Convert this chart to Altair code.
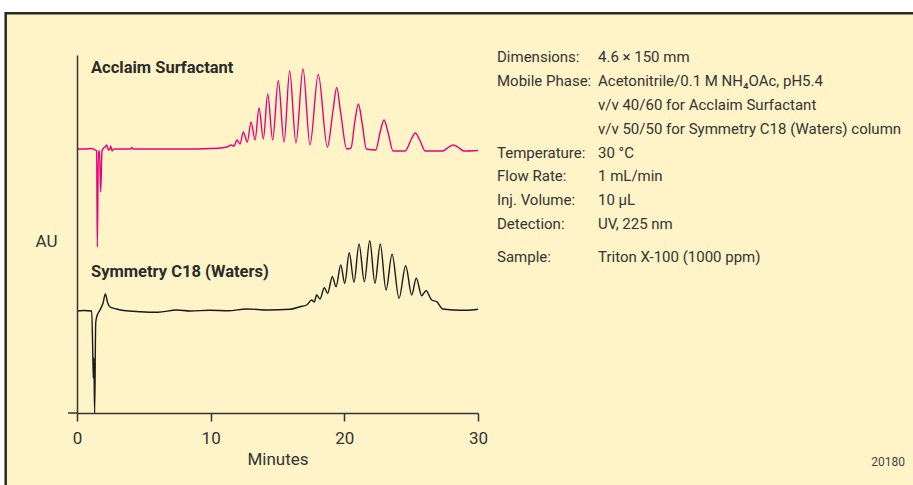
import altair as alt
import pandas as pd

# ---------------- data ----------------
# Acclaim Surfactant trace (minutes, arbitrary AU)
acclaim_time = [0, 0.6, 1.1, 1.35, 1.47, 1.52, 1.6, 1.68, 1.77, 1.87, 2.0, 2.1, 2.22, 2.35,
                2.45, 2.52, 2.62, 2.75, 3.2, 4.0, 4.09, 4.2, 6.0, 8.0, 10.0, 10.9, 11.3,
                11.52, 11.75, 11.97, 12.2, 12.44, 12.74, 13.02, 13.32, 13.62, 13.94, 14.27,
                14.64, 15.06, 15.49, 15.91, 16.38, 16.91, 17.43, 18.05, 18.73,
                19.15, 19.43, 19.71, 20.18,
                20.5, 20.78, 21.05, 21.32, 21.65, 22.35, 22.68, 22.97, 23.26, 23.65, 24.55,
                24.98, 25.31, 25.64, 26.05, 27.35, 27.8, 28.15, 28.5, 28.95, 30.0]
acclaim_au = [264, 264, 264.5, 263, 262, 166, 262, 262, 221, 262, 265, 266, 268, 263,
              264, 267, 262, 264, 264, 264, 265.5, 264, 264, 264, 264.5, 265.3, 266.5,
              268, 267, 273, 269, 281, 271, 291, 273, 305, 274, 319,
              273, 332.5, 271, 342, 270, 344, 268, 338.5, 266,
              302, 325.5, 302, 264,
              265, 291, 309, 291, 264, 263, 281, 293, 281, 262, 262,
              273, 280, 273, 262, 262, 265.8, 268, 265.8, 262, 262.5]

# Symmetry C18 (Waters) trace
symmetry_time = [0, 0.5, 1.1, 1.18, 1.22, 1.26, 1.32, 1.4, 1.47, 1.72, 1.95, 2.12, 2.3, 2.47,
                 2.97, 3.5, 4.7, 6.06, 7.46, 8.5, 9.95, 11.3, 12.7, 14.3, 15.93, 16.68,
                 17.18, 17.56, 17.75, 17.93, 18.18, 18.5, 18.75, 19.1, 19.38, 19.73, 20.03,
                 20.37, 20.72, 21.1, 21.5, 21.9, 22.29, 22.69, 23.12, 23.57, 24.09, 24.59,
                 25.04, 25.38, 25.79, 26.11, 26.54, 26.91, 27.36, 28.15, 29.15, 30.0]
symmetry_au = [102, 102.5, 102, 60, 35, 55, 0, 90, 96, 103, 110, 119, 110, 106,
               104, 102.5, 101.3, 100.7, 103, 102, 102.7, 102.3, 104, 103, 103.7, 106.3,
               108, 113, 111, 118, 114, 125.3, 119.7, 136.3, 126.3, 148, 129.7,
               160.3, 130.7, 169, 131.3, 172.3, 129.7, 169, 123, 158.7, 114.7, 147.3,
               118, 134.7, 117.3, 122.3, 113, 111.3, 104, 103, 102.7, 103.7]

series_names = ["Acclaim Surfactant", "Symmetry C18 (Waters)"]
x_ticks = [0, 10, 20, 30]

info_keys = ["Dimensions:", "Mobile Phase:", "", "", "Temperature:", "Flow Rate:",
             "Inj. Volume:", "Detection:", "Sample:"]
info_vals = ["4.6 \u00d7 150 mm", "Acetonitrile/0.1 M NH\u2084OAc, pH5.4",
             "v/v 40/60 for Acclaim Surfactant",
             "v/v 50/50 for Symmetry C18 (Waters) column", "30 \u00b0C", "1 mL/min",
             "10 \u00b5L", "UV, 225 nm", "Triton X-100 (1000 ppm)"]
figure_id = "20180"

# ---------------- styling / layout ----------------
FONT = "Roboto, 'Liberation Sans', sans-serif"
CREAM = "#fff4c7"
PINK = "#e6007e"
INK = "#333333"
PLOT_LEFT, PLOT_TOP, PLOT_W, PLOT_H = 77, 55, 401, 358

traces = pd.concat([
    pd.DataFrame({"t": acclaim_time, "v": acclaim_au, "s": series_names[0]}),
    pd.DataFrame({"t": symmetry_time, "v": symmetry_au, "s": series_names[1]}),
])

one = pd.DataFrame({"k": [0]})

xs = alt.Scale(domain=[0, 30], nice=False, zero=False)
ys = alt.Scale(domain=[0, PLOT_H], nice=False, zero=False)

background = alt.Chart(one).mark_rect(
    fill=CREAM, stroke="#2a2a2a", strokeWidth=2.5
).encode(
    x=alt.value(5.7 - PLOT_LEFT), x2=alt.value(1000),
    y=alt.value(13.3 - PLOT_TOP), y2=alt.value(600),
)

lines = alt.Chart(traces).mark_line(strokeWidth=1.4, interpolate="monotone").encode(
    x=alt.X("t:Q", scale=xs, axis=alt.Axis(
        values=x_ticks, title="Minutes", grid=False, format="d",
        domainColor=INK, domainWidth=1.5, tickColor=INK, tickWidth=1.5, tickSize=8,
        labelFont=FONT, labelFontSize=17, labelColor=INK, labelPadding=9,
        labelFlush=False, titleFont=FONT, titleFontSize=17, titleFontWeight="normal",
        titleColor=INK, titleY=51, titleBaseline="alphabetic", zindex=1)),
    y=alt.Y("v:Q", scale=ys, axis=alt.Axis(
        title="AU", ticks=False, labels=False, grid=False,
        domainColor=INK, domainWidth=1.5, titleAngle=0, titleX=-31, titleY=191.5,
        titleAlign="center", titleBaseline="alphabetic", titleFont=FONT,
        titleFontSize=17, titleFontWeight="normal", titleColor=INK, zindex=1)),
    color=alt.Color("s:N", scale=alt.Scale(domain=series_names, range=[PINK, "#1a1a1a"]),
                    legend=None),
    detail="s:N",
)

axis_ext = alt.Chart(one).mark_rule(color=INK, strokeWidth=1.5).encode(
    x=alt.value(-9), x2=alt.value(0), y=alt.value(PLOT_H)
)

label_rows = pd.DataFrame({
    "txt": series_names,
    "px": [91 - PLOT_LEFT, 91 - PLOT_LEFT],
    "py": [72.7 - PLOT_TOP, 276.5 - PLOT_TOP],
})
trace_labels = alt.Chart(label_rows).mark_text(
    align="left", baseline="alphabetic", font=FONT, fontSize=16.5, fontWeight="bold",
    color="#2a2a2a"
).encode(x=alt.X("px:Q", scale=None), y=alt.Y("py:Q", scale=None), text="txt:N")

row_base = [61.7, 86, 110.2, 134.4, 157.5, 181, 205, 228.6, 262]
info_df = pd.DataFrame({
    "key": info_keys, "val": info_vals,
    "py": [b - PLOT_TOP for b in row_base],
})
info_key_layer = alt.Chart(info_df).mark_text(
    align="left", baseline="alphabetic", font=FONT, fontSize=15, color=INK
).encode(x=alt.value(497 - PLOT_LEFT), y=alt.Y("py:Q", scale=None), text="key:N")
info_val_layer = alt.Chart(info_df).mark_text(
    align="left", baseline="alphabetic", font=FONT, fontSize=15, color=INK
).encode(x=alt.value(598 - PLOT_LEFT), y=alt.Y("py:Q", scale=None), text="val:N")

fig_id = alt.Chart(one).mark_text(
    align="right", baseline="alphabetic", font=FONT, fontSize=12, color="#444444"
).encode(x=alt.value(905 - PLOT_LEFT), y=alt.value(465.7 - PLOT_TOP),
         text=alt.value(figure_id))

chart = alt.layer(
    background, lines, axis_ext, trace_labels, info_key_layer, info_val_layer, fig_id
).properties(
    width=PLOT_W, height=PLOT_H,
    autosize=alt.AutoSizeParams(type="none"),
    padding={"left": PLOT_LEFT, "top": PLOT_TOP,
             "right": 913 - PLOT_LEFT - PLOT_W, "bottom": 485 - PLOT_TOP - PLOT_H},
    background="white",
).configure_view(stroke=None)

chart.save("out.html", embed_options={"renderer": "svg", "actions": False})
